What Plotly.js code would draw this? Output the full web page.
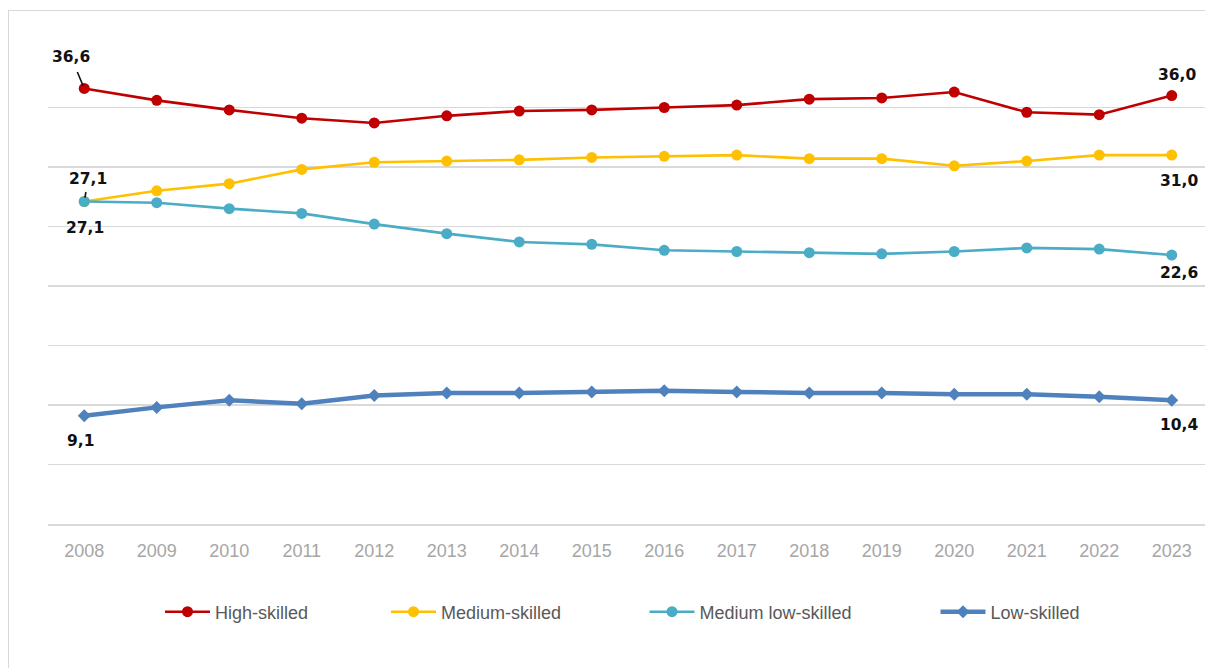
<!DOCTYPE html>
<html>
<head>
<meta charset="utf-8">
<script src="https://cdn.plot.ly/plotly-3.0.1.min.js"></script>
<style>
  html, body { margin: 0; padding: 0; background: #ffffff; overflow: hidden; width: 1205px; height: 668px; }
  #chart { position: absolute; left: 0; top: 0; }
  #frame { position: absolute; left: 8px; top: 10px; width: 1300px; height: 800px;
           border: 1.5px solid #d9d9d9; pointer-events: none; }
</style>
</head>
<body>
<div id="chart"></div>
<div id="frame"></div>
<script>
// Share of employment by skill level, 2008–2023 (%)
const years = ['2008','2009','2010','2011','2012','2013','2014','2015',
               '2016','2017','2018','2019','2020','2021','2022','2023'];
const highSkilled      = [36.6, 35.6, 34.8, 34.1, 33.7, 34.3, 34.7, 34.8, 35.0, 35.2, 35.7, 35.8, 36.3, 34.6, 34.4, 36.0];
const mediumSkilled    = [27.1, 28.0, 28.6, 29.8, 30.4, 30.5, 30.6, 30.8, 30.9, 31.0, 30.7, 30.7, 30.1, 30.5, 31.0, 31.0];
const mediumLowSkilled = [27.1, 27.0, 26.5, 26.1, 25.2, 24.4, 23.7, 23.5, 23.0, 22.9, 22.8, 22.7, 22.9, 23.2, 23.1, 22.6];
const lowSkilled       = [9.1, 9.8, 10.4, 10.1, 10.8, 11.0, 11.0, 11.1, 11.2, 11.1, 11.0, 11.0, 10.9, 10.9, 10.7, 10.4];
const seriesNames = ['High-skilled', 'Medium-skilled', 'Medium low-skilled', 'Low-skilled'];

const W = 1208, H = 668;
const FONT = 'Liberation Sans, Arial, sans-serif';

// one legend per series so each entry can sit at its own x position
const styles = [
  { color: '#C00000', width: 2.6, symbol: 'circle',  size: 11, legend: 'legend',  lx: 160 },
  { color: '#FFC000', width: 2.6, symbol: 'circle',  size: 11, legend: 'legend2', lx: 386 },
  { color: '#4BACC6', width: 2.6, symbol: 'circle',  size: 11, legend: 'legend3', lx: 644.5 },
  { color: '#4F81BD', width: 4.5, symbol: 'diamond', size: 10, legend: 'legend4', lx: 935.5 }
];
const values = [highSkilled, mediumSkilled, mediumLowSkilled, lowSkilled];

const traces = values.map((vals, i) => ({
  type: 'scatter',
  mode: 'lines+markers',
  name: seriesNames[i],
  x: years,
  y: vals,
  line: { color: styles[i].color, width: styles[i].width },
  marker: { color: styles[i].color, symbol: styles[i].symbol, size: styles[i].size },
  legend: styles[i].legend,
  hoverinfo: 'x+y+name'
}));

// value labels at the first and last year of each series
// (annotation x on a category axis is the category's serial index)
const fmt = v => v.toFixed(1).replace('.', ',');
const labelSpecs = [
  { s: 0, i: 0,  arrow: true, ax: -13, ay: -31, pad: 5, standoff: 3 },
  { s: 0, i: 15, dx: 5,  dy: 21 },
  { s: 1, i: 0,  arrow: true, ax: 4,  ay: -23, pad: 4, standoff: 4 },
  { s: 1, i: 15, dx: 7,  dy: -26 },
  { s: 2, i: 0,  dx: 1,  dy: -26 },
  { s: 2, i: 15, dx: 7,  dy: -18 },
  { s: 3, i: 0,  dx: -4, dy: -25 },
  { s: 3, i: 15, dx: 7,  dy: -25 }
];
const annotations = labelSpecs.map(l => {
  const a = {
    x: l.i, y: values[l.s][l.i], xref: 'x', yref: 'y',
    text: fmt(values[l.s][l.i]),
    font: { family: 'DejaVu Sans, sans-serif', size: 15.5, color: '#111111', weight: 'bold' },
    xanchor: 'center', yanchor: 'middle'
  };
  if (l.arrow) {
    Object.assign(a, { showarrow: true, ax: l.ax, ay: l.ay, arrowhead: 0, arrowwidth: 1.6,
                       arrowcolor: '#111111', standoff: l.standoff, borderpad: l.pad });
  } else {
    Object.assign(a, { showarrow: false, xshift: l.dx, yshift: l.dy });
  }
  return a;
});

const legendBase = {
  orientation: 'h', xref: 'container', yref: 'container',
  y: 1 - 612 / H, yanchor: 'middle', xanchor: 'left',
  font: { family: FONT, size: 18, color: '#595959' },
  itemwidth: 45, bgcolor: 'rgba(0,0,0,0)', borderwidth: 0
};
const layout = {
  width: W, height: H,
  margin: { l: 48, r: 0, t: 48, b: 143.5 },
  paper_bgcolor: '#ffffff', plot_bgcolor: '#ffffff',
  showlegend: true,
  font: { family: FONT },
  xaxis: {
    type: 'category', range: [-0.5, 15.5],
    showgrid: false, zeroline: false,
    showline: true, linecolor: '#d9d9d9', linewidth: 1.5,
    ticks: '', tickfont: { family: FONT, size: 18, color: '#a6a6a6' },
    ticklabelstandoff: 10
  },
  yaxis: {
    range: [0, 40], dtick: 5, tick0: 0,
    showgrid: true, gridcolor: '#d9d9d9', gridwidth: 1.5,
    zeroline: false, showticklabels: false, ticks: ''
  },
  annotations: annotations
};
styles.forEach(s => {
  layout[s.legend] = Object.assign({}, legendBase, { x: s.lx / W });
});

Plotly.newPlot('chart', traces, layout, { displayModeBar: false, staticPlot: true });
</script>
</body>
</html>
